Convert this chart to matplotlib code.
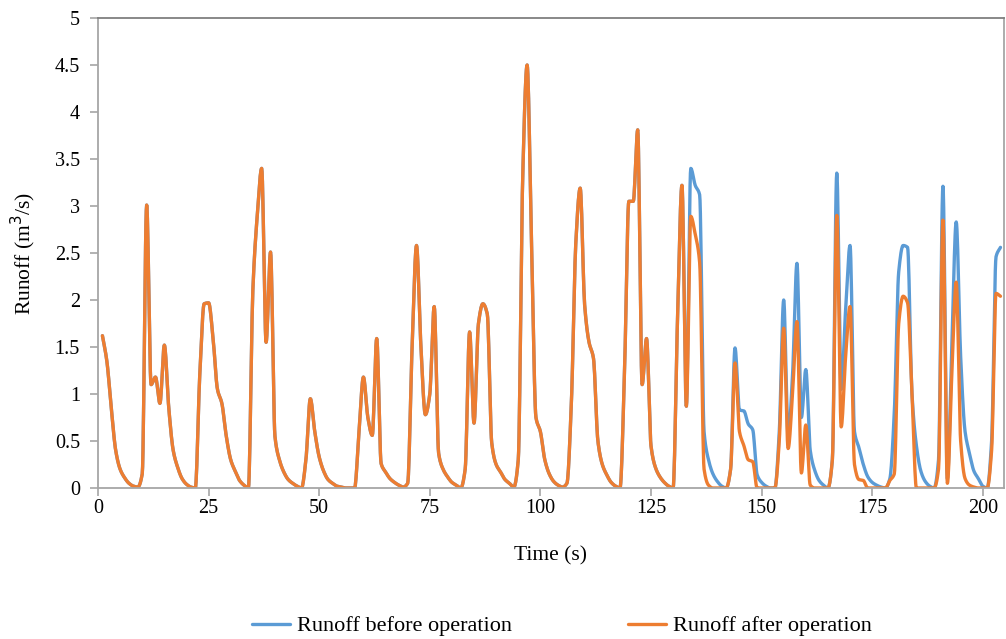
import numpy as np
import matplotlib
matplotlib.use("Agg")
import matplotlib.pyplot as plt

# ---- data ----
time_s = list(range(1, 205))

shared_1_133 = [
    1.62, 1.35, 0.85, 0.40, 0.20, 0.11, 0.05, 0.02, 0.01, 0.15,   # 1-10
    3.01, 1.10, 1.18, 0.90, 1.52, 0.85, 0.40, 0.22, 0.10, 0.04,   # 11-20
    0.01, 0.00, 1.20, 1.96, 1.97, 1.60, 1.05, 0.90, 0.55, 0.30,   # 21-30
    0.18, 0.08, 0.03, 0.00, 2.10, 2.90, 3.40, 1.55, 2.51, 0.55,   # 31-40
    0.30, 0.17, 0.09, 0.05, 0.02, 0.00, 0.30, 0.95, 0.60, 0.33,   # 41-50
    0.18, 0.09, 0.05, 0.02, 0.01, 0.00, 0.00, 0.00, 0.60, 1.18,   # 51-60
    0.75, 0.56, 1.59, 0.26, 0.17, 0.10, 0.06, 0.03, 0.01, 0.05,   # 61-70
    1.50, 2.58, 1.50, 0.78, 1.00, 1.93, 0.37, 0.20, 0.12, 0.06,   # 71-80
    0.03, 0.00, 0.20, 1.66, 0.69, 1.75, 1.96, 1.85, 0.48, 0.25,   # 81-90
    0.17, 0.09, 0.05, 0.01, 0.30, 3.30, 4.50, 2.60, 0.75, 0.60,   # 91-100
    0.30, 0.15, 0.07, 0.03, 0.01, 0.05, 0.90, 2.60, 3.19, 1.95,   # 101-110
    1.55, 1.38, 0.50, 0.25, 0.14, 0.06, 0.02, 0.00, 1.20, 3.05,   # 111-120
    3.05, 3.81, 1.10, 1.59, 0.45, 0.22, 0.12, 0.06, 0.02, 0.00,   # 121-130
    1.80, 3.22, 0.87,                                             # 131-133
]

before_134_204 = [
    3.40, 3.22, 3.12, 0.60, 0.30, 0.15, 0.07,                     # 134-140
    0.02, 0.00, 0.20, 1.49, 0.83, 0.82, 0.68, 0.62, 0.14, 0.06,   # 141-150
    0.02, 0.00, 0.00, 0.60, 2.00, 0.55, 1.20, 2.39, 0.75, 1.26,   # 151-160
    0.40, 0.19, 0.08, 0.03, 0.00, 0.30, 3.35, 1.05, 1.90, 2.58,   # 161-170
    0.60, 0.43, 0.25, 0.12, 0.06, 0.03, 0.01, 0.00, 0.10, 0.80,   # 171-180
    2.30, 2.58, 2.56, 1.00, 0.45, 0.18, 0.07, 0.02, 0.00, 0.30,   # 181-190
    3.21, 0.10, 1.50, 2.83, 1.40, 0.60, 0.37, 0.18, 0.10, 0.02,   # 191-200
    0.00, 0.50, 2.46, 2.56,                                       # 201-204
]

after_134_204 = [
    2.89, 2.70, 2.40, 0.20, 0.03, 0.00, 0.00,                     # 134-140
    0.00, 0.00, 0.20, 1.33, 0.60, 0.45, 0.30, 0.28, 0.00, 0.00,   # 141-150
    0.00, 0.00, 0.00, 0.50, 1.70, 0.42, 1.00, 1.77, 0.16, 0.67,   # 151-160
    0.03, 0.00, 0.00, 0.00, 0.00, 0.30, 2.90, 0.65, 1.40, 1.93,   # 161-170
    0.25, 0.09, 0.08, 0.00, 0.00, 0.00, 0.00, 0.00, 0.08, 0.15,   # 171-180
    1.75, 2.04, 1.97, 1.00, 0.00, 0.00, 0.00, 0.00, 0.00, 0.20,   # 181-190
    2.85, 0.05, 1.20, 2.19, 0.50, 0.10, 0.03, 0.01, 0.00, 0.00,   # 191-200
    0.00, 0.40, 2.07, 2.04,                                       # 201-204
]

runoff_before = shared_1_133 + before_134_204
runoff_after = shared_1_133 + after_134_204

x_ticks = [0, 25, 50, 75, 100, 125, 150, 175, 200]
y_ticks = [0, 0.5, 1, 1.5, 2, 2.5, 3, 3.5, 4, 4.5, 5]
y_tick_labels = ["0", "0.5", "1", "1.5", "2", "2.5", "3", "3.5", "4", "4.5", "5"]


# ---- smooth rendering (monotone cubic, like a smoothed line chart) ----
def pchip_curve(x, y, n=12):
    x = np.asarray(x, float)
    y = np.asarray(y, float)
    h = np.diff(x)
    d = np.diff(y) / h
    m = np.zeros_like(y)
    for k in range(1, len(y) - 1):
        if d[k - 1] * d[k] > 0:
            w1 = 2 * h[k] + h[k - 1]
            w2 = h[k] + 2 * h[k - 1]
            m[k] = (w1 + w2) / (w1 / d[k - 1] + w2 / d[k])
    m[0] = d[0]
    m[-1] = d[-1]
    xs, ys = [], []
    for k in range(len(x) - 1):
        t = np.linspace(0, 1, n, endpoint=False)
        h00 = 2 * t**3 - 3 * t**2 + 1
        h10 = t**3 - 2 * t**2 + t
        h01 = -2 * t**3 + 3 * t**2
        h11 = t**3 - t**2
        xs.append(x[k] + t * h[k])
        ys.append(h00 * y[k] + h10 * h[k] * m[k] + h01 * y[k + 1] + h11 * h[k] * m[k + 1])
    xs.append([x[-1]])
    ys.append([y[-1]])
    return np.concatenate(xs), np.clip(np.concatenate(ys), 0, None)


plt.rcParams["font.family"] = ["Liberation Serif", "DejaVu Serif"]

fig = plt.figure(figsize=(10.06, 6.39), dpi=100)
ax = fig.add_axes([98 / 1006, 151 / 639, 906 / 1006, 470 / 639])

blue = "#5B9BD5"
orange = "#ED7D31"

xb, yb = pchip_curve(time_s, runoff_before)
xa, ya = pchip_curve(time_s, runoff_after)
ax.plot(xb, yb, color=blue, lw=2.4, label="Runoff before operation", solid_capstyle="round")
ax.plot(xa, ya, color=orange, lw=2.4, label="Runoff after operation", solid_capstyle="round")

ax.set_xlim(0, 204.8)
ax.set_ylim(0, 5)
ax.set_xticks(x_ticks)
ax.set_yticks(y_ticks)
ax.set_yticklabels(y_tick_labels)

for s in ["left", "bottom", "right"]:
    ax.spines[s].set_color("#a6a6a6")
    ax.spines[s].set_linewidth(1.3)
ax.spines["top"].set_color("#7f7f7f")
ax.spines["top"].set_linewidth(1.3)

ax.tick_params(axis="both", direction="out", length=6, width=1.2, color="#a6a6a6",
               labelsize=14.5, labelcolor="black")
ax.tick_params(axis="y", pad=7)
ax.tick_params(axis="x", pad=2)

ax.set_xlabel("Time (s)", fontsize=15.5, labelpad=20)
ax.set_ylabel("Runoff (m$^3$/s)", fontsize=15.5, labelpad=12)

fig.legend(loc="center", bbox_to_anchor=(562 / 1006, 1 - 626 / 639), ncol=2,
           frameon=False, fontsize=16, handlelength=1.7, handletextpad=0.35,
           columnspacing=5.2)

fig.savefig("out.png", dpi=100)
